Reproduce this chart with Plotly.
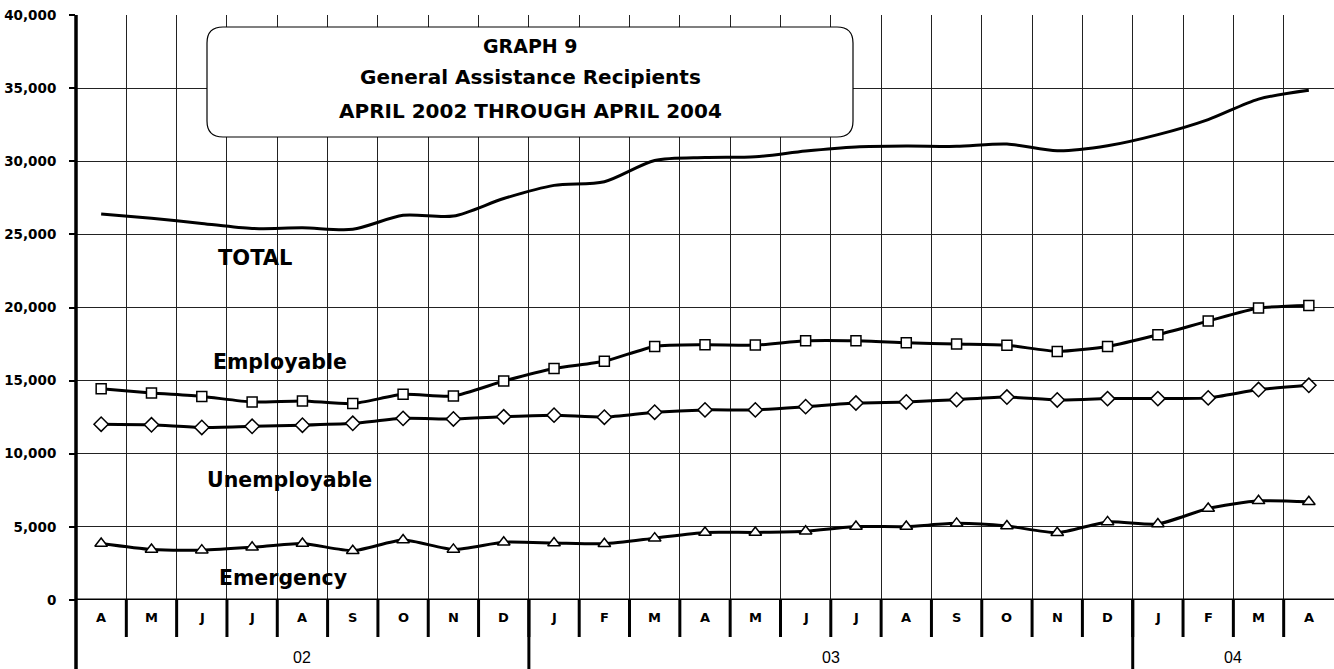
import plotly.graph_objects as go

months = ["A", "M", "J", "J", "A", "S", "O", "N", "D",
          "J", "F", "M", "A", "M", "J", "J", "A", "S", "O", "N", "D",
          "J", "F", "M", "A"]
years = ["02"] * 9 + ["03"] * 12 + ["04"] * 4

total = [26400, 26100, 25750, 25400, 25450, 25350, 26300, 26250, 27450,
         28350, 28600, 30050, 30250, 30300, 30700, 30980, 31040, 31020, 31180, 30720, 31060,
         31820, 32850, 34250, 34850]
employable = [14440, 14150, 13920, 13540, 13610, 13430, 14060, 13950, 14970,
              15830, 16320, 17340, 17450, 17430, 17720, 17720, 17590, 17500, 17420, 17000, 17340,
              18140, 19070, 19960, 20140]
unemployable = [12020, 11980, 11800, 11880, 11950, 12080, 12420, 12380, 12530,
                12640, 12500, 12840, 13000, 13000, 13220, 13470, 13540, 13700, 13880, 13680, 13770,
                13770, 13820, 14390, 14680]
emergency = [3860, 3450, 3410, 3600, 3860, 3370, 4100, 3460, 3950,
             3900, 3850, 4230, 4620, 4620, 4700, 5020, 5020, 5240, 5060, 4600, 5340,
             5200, 6260, 6780, 6720]

series_labels = ["TOTAL", "Employable", "Unemployable", "Emergency"]
label_pos_x = [3.06, 3.55, 3.75, 3.61]
label_pos_y = [23400, 16250, 8180, 1490]

title_lines = ["GRAPH 9", "General Assistance Recipients", "APRIL 2002 THROUGH APRIL 2004"]

W, H = 1334, 669
ML, MR, MT, MB = 76, 0, 15, 69
PW, PH = W - ML - MR, H - MT - MB

x = list(range(len(months)))

fig = go.Figure()
fig.add_trace(go.Scatter(x=x, y=total, mode="lines",
                         line=dict(color="black", width=3, shape="spline", smoothing=0.8),
                         showlegend=False, hoverinfo="y"))
fig.add_trace(go.Scatter(x=x, y=employable, mode="lines+markers",
                         line=dict(color="black", width=3, shape="spline", smoothing=0.6),
                         marker=dict(symbol="square", size=10, color="white",
                                     line=dict(color="black", width=1.5)),
                         showlegend=False))
fig.add_trace(go.Scatter(x=x, y=unemployable, mode="lines+markers",
                         line=dict(color="black", width=3, shape="spline", smoothing=0.6),
                         marker=dict(symbol="diamond", size=11, color="white",
                                     line=dict(color="black", width=1.5)),
                         showlegend=False))
fig.add_trace(go.Scatter(x=x, y=emergency, mode="lines+markers",
                         line=dict(color="black", width=3, shape="spline", smoothing=0.6),
                         marker=dict(symbol="triangle-up", size=11, color="white",
                                     line=dict(color="black", width=1.5)),
                         showlegend=False))

n = len(months)
boundaries = [i - 0.5 for i in range(n + 1)]

shapes = []
# month separators (between categories)
for i in range(n - 1):
    shapes.append(dict(type="line", xref="x", yref="paper", x0=i + 0.5, x1=i + 0.5,
                       y0=0, y1=-37 / PH, line=dict(color="black", width=3)))
# year separators
for i in range(n - 1):
    if years[i] != years[i + 1]:
        shapes.append(dict(type="line", xref="x", yref="paper", x0=i + 0.5, x1=i + 0.5,
                           y0=0, y1=-MB / PH, line=dict(color="black", width=3)))
# left axis extended
shapes.append(dict(type="line", xref="paper", yref="paper", x0=0, x1=0,
                   y0=1, y1=-MB / PH, line=dict(color="black", width=3.5)))
# zero baseline
shapes.append(dict(type="line", xref="paper", yref="y", x0=0, x1=1,
                   y0=0, y1=0, line=dict(color="black", width=3)))

# rounded title box
bx0, bx1 = (207 - ML) / PW, (853 - ML) / PW
by1, by0 = (H - MB - 27) / PH, (H - MB - 137) / PH
rx, ry = 16 / PW, 16 / PH
path = (f"M {bx0 + rx} {by1} L {bx1 - rx} {by1} Q {bx1} {by1} {bx1} {by1 - ry} "
        f"L {bx1} {by0 + ry} Q {bx1} {by0} {bx1 - rx} {by0} "
        f"L {bx0 + rx} {by0} Q {bx0} {by0} {bx0} {by0 + ry} "
        f"L {bx0} {by1 - ry} Q {bx0} {by1} {bx0 + rx} {by1} Z")
shapes.append(dict(type="path", xref="paper", yref="paper", path=path,
                   fillcolor="white", line=dict(color="black", width=1.2), layer="above"))

annotations = []
for i, m in enumerate(months):
    annotations.append(dict(x=i, y=-18 / PH, xref="x", yref="paper", text=m, showarrow=False,
                            font=dict(family="DejaVu Sans", size=13, color="black", weight="bold"),
                            yanchor="middle"))
# year labels
groups = {}
for i, yv in enumerate(years):
    groups.setdefault(yv, []).append(i)
for yv, idx in groups.items():
    annotations.append(dict(x=(idx[0] + idx[-1]) / 2, y=-57 / PH, xref="x", yref="paper",
                            text=yv, showarrow=False, yanchor="middle",
                            font=dict(family="Liberation Sans", size=16, color="black")))
# series labels
label_sizes = [21, 20.5, 20.5, 20.5]
for t, lx, ly, ls in zip(series_labels, label_pos_x, label_pos_y, label_sizes):
    annotations.append(dict(x=lx, y=ly, xref="x", yref="y", text=t, showarrow=False,
                            font=dict(family="DejaVu Sans", size=ls, color="black", weight="bold")))
# title lines
title_y = [46, 77, 111]
title_sz = [19, 20, 20]
for t, ty, ts in zip(title_lines, title_y, title_sz):
    annotations.append(dict(x=(530 - ML) / PW, y=(H - MB - ty) / PH, xref="paper", yref="paper",
                            text=t, showarrow=False, yanchor="middle",
                            font=dict(family="DejaVu Sans", size=ts, color="black", weight="bold")))

fig.update_layout(
    width=W, height=H,
    margin=dict(l=ML, r=MR, t=MT, b=MB, pad=0),
    paper_bgcolor="white", plot_bgcolor="white",
    shapes=shapes, annotations=annotations,
    xaxis=dict(range=[-0.5, n - 0.5], tickvals=boundaries, showticklabels=False,
               showgrid=True, gridcolor="#222", gridwidth=1, ticks="", zeroline=False,
               showline=False, fixedrange=True),
    yaxis=dict(range=[0, 40000], dtick=5000, tick0=0, tickformat=",d",
               showgrid=True, gridcolor="#222", gridwidth=1, zeroline=False,
               ticks="outside", ticklen=6, tickwidth=1.5, tickcolor="black",
               ticklabelstandoff=10,
               tickfont=dict(family="DejaVu Sans", size=13.5, color="black", weight="bold"),
               showline=False, fixedrange=True),
)

fig.write_html("out.html", config={"displayModeBar": False},
               post_script="document.body.style.margin='0';document.body.style.overflow='hidden';")
